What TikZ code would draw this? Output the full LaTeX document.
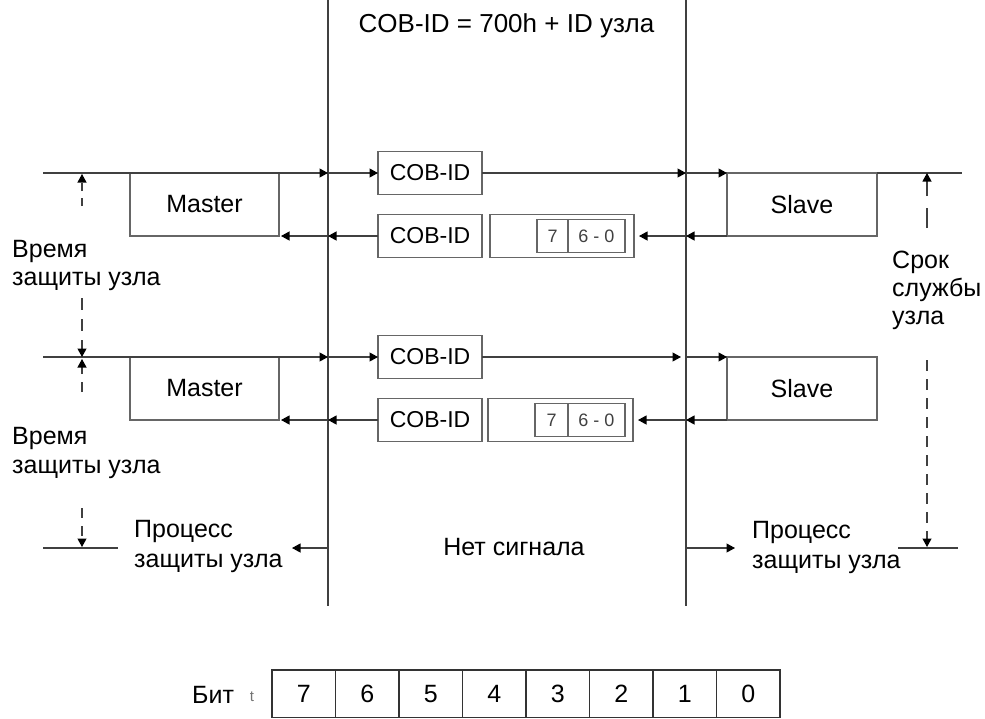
\documentclass[tikz,border=0pt]{standalone}
\usepackage{fontspec}
\setmainfont{Liberation Sans}
\usetikzlibrary{arrows.meta}
\tikzset{
  ln/.style={draw=black!75, line width=1.1pt},
  arr/.style={ln, -{Triangle[length=8.5pt,width=9pt,color=black]}},
  dsh/.style={arr, dash pattern=on 10pt off 8pt},
  box/.style={draw=black!60, line width=1.3pt, inner sep=0pt, outer sep=0pt, font=\fontsize{25}{28}\selectfont},
  mbox/.style={box, minimum width=149pt, minimum height=63pt},
  cob/.style={box, minimum width=104pt, minimum height=43pt, font=\fontsize{23}{26}\selectfont},
  dbox/.style={box, minimum width=144pt, minimum height=43pt},
  cell/.style={draw=black!60, line width=1.1pt, minimum height=33pt, inner sep=0pt, outer sep=0pt, font=\fontsize{18}{20}\selectfont, text=black!75},
  bitcell/.style={draw=black!80, line width=1.2pt, minimum width=63.5pt, minimum height=48pt, inner sep=0pt, outer sep=0pt, font=\fontsize{25}{28}\selectfont},
  lbl/.style={anchor=base west, inner sep=0pt, font=\fontsize{25}{28}\selectfont},
}
\begin{document}
\begin{tikzpicture}[x=1pt,y=-1pt]
\useasboundingbox (0,0) rectangle (985,718);

% title
\node[lbl, anchor=base, font=\fontsize{26}{30}\selectfont] (title) at (506.5,32) {COB-ID = 700h + ID узла};

% vertical bus lines
\coordinate (vLt) at (328,0); \coordinate (vLb) at (328,606);
\coordinate (vRt) at (686,0); \coordinate (vRb) at (686,606);
\draw[ln] (vLt) -- (vLb);
\draw[ln] (vRt) -- (vRb);

% ---------- section 1 ----------
\node[mbox] (m1) at (204.5,204.5) {Master};
\node[mbox, minimum width=150pt] (s1) at (802,204.5) {Slave};
\node[cob] (c1a) at (430,173) {COB-ID};
\node[cob] (c1b) at (430,236) {COB-ID};
\node[dbox] (d1) at (562,236) {};
\node[cell, minimum width=31pt] (d1h) at (552.5,236) {7};
\node[cell, minimum width=57pt] (d1l) at (596.5,236) {6 - 0};

\coordinate (a1) at (43,173);  \coordinate (p1) at (328,173);
\coordinate (q1) at (686,173); \coordinate (e1) at (962,173);
\coordinate (p1b) at (328,236); \coordinate (q1b) at (686,236);

\draw[arr] (a1) -- (p1);
\draw[arr] (p1) -- (c1a.west);
\draw[arr] (c1a.east) -- (q1);
\draw[arr] (q1) -- (s1.north west);
\draw[ln] (s1.north east) -- (e1);
\draw[arr] (s1.south west) -- (q1b);
\draw[arr, shorten >=5pt] (q1b) -- (d1.east);
\draw[arr] (c1b.west) -- (p1b);
\draw[arr, shorten >=2pt] (p1b) -- (m1.south east);

% ---------- section 2 ----------
\node[mbox] (m2) at (204.5,388.5) {Master};
\node[mbox, minimum width=150pt] (s2) at (802,388.5) {Slave};
\node[cob] (c2a) at (430,357) {COB-ID};
\node[cob] (c2b) at (430,420) {COB-ID};
\node[dbox, minimum width=145pt] (d2) at (560.5,420) {};
\node[cell, minimum width=33pt] (d2h) at (551.5,420) {7};
\node[cell, minimum width=57pt] (d2l) at (596.5,420) {6 - 0};

\coordinate (a2) at (43,357);  \coordinate (p2) at (328,357);
\coordinate (q2) at (681,357); \coordinate (q2s) at (686,357);
\coordinate (p2b) at (328,420); \coordinate (q2b) at (686,420);

\draw[arr] (a2) -- (p2);
\draw[arr] (p2) -- (c2a.west);
\draw[arr] (c2a.east) -- (q2);
\draw[arr] (q2s) -- (s2.north west);
\draw[arr] (s2.south west) -- (q2b);
\draw[arr, shorten >=5pt] (q2b) -- (d2.east);
\draw[arr] (c2b.west) -- (p2b);
\draw[arr, shorten >=2pt] (p2b) -- (m2.south east);

% ---------- bottom ----------
\coordinate (bl1) at (43,548);  \coordinate (bl2) at (118,548);
\coordinate (br1) at (898,548); \coordinate (br2) at (958,548);
\coordinate (vLm) at (328,548); \coordinate (vLe) at (292,548);
\coordinate (vRm) at (686,548); \coordinate (vRe) at (735,548);
\draw[ln] (bl1) -- (bl2);
\draw[ln] (br1) -- (br2);
\draw[arr] (vLm) -- (vLe);
\draw[arr] (vRm) -- (vRe);

% dashed timing arrows (left)
\coordinate (t1s) at (82,206); \coordinate (t1e) at (82,174);
\coordinate (t2s) at (82,298); \coordinate (t2e) at (82,357);
\coordinate (t3s) at (82,392); \coordinate (t3e) at (82,359);
\coordinate (t4s) at (82,508); \coordinate (t4e) at (82,547);
\draw[dsh, dash pattern=on 8pt off 7pt] (t1s) -- (t1e);
\draw[dsh, dash pattern=on 12pt off 9pt] (t2s) -- (t2e);
\draw[dsh] (t3s) -- (t3e);
\draw[dsh] (t4s) -- (t4e);

% dashed timing arrows (right)
\coordinate (r1s) at (927,228); \coordinate (r1e) at (927,173);
\coordinate (r2s) at (927,360); \coordinate (r2e) at (927,547);
\draw[dsh, dash pattern=on 20pt off 12pt] (r1s) -- (r1e);
\draw[dsh, dash pattern=on 11pt off 8pt] (r2s) -- (r2e);

% labels
\node[lbl] (w1a) at (12,257) {Время};
\node[lbl] (w1b) at (12,285) {защиты узла};
\node[lbl] (w2a) at (12,444) {Время};
\node[lbl] (w2b) at (12,473) {защиты узла};
\node[lbl] (sr1) at (892,268) {Срок};
\node[lbl] (sr2) at (892,296) {службы};
\node[lbl] (sr3) at (892,324) {узла};
\node[lbl] (pl1) at (134,537) {Процесс};
\node[lbl] (pl2) at (134,567) {защиты узла};
\node[lbl] (pr1) at (752,538) {Процесс};
\node[lbl] (pr2) at (752,568) {защиты узла};
\node[lbl, anchor=base] (nosig) at (514,555) {Нет сигнала};

% bit table
\node[lbl] (bitlbl) at (192,703) {Бит};
\node[anchor=base, inner sep=0pt, font=\fontsize{15}{16}\selectfont, text=black!55] (stray) at (252,701) {t};
\begin{scope}
\clip (0,0) rectangle (985,717.3);
\foreach \b [count=\i from 0] in {7,6,5,4,3,2,1,0} {
  \node[bitcell] (bit\b) at ({272+31.75+63.5*\i},694) {\b};
}
\end{scope}
\end{tikzpicture}
\end{document}
